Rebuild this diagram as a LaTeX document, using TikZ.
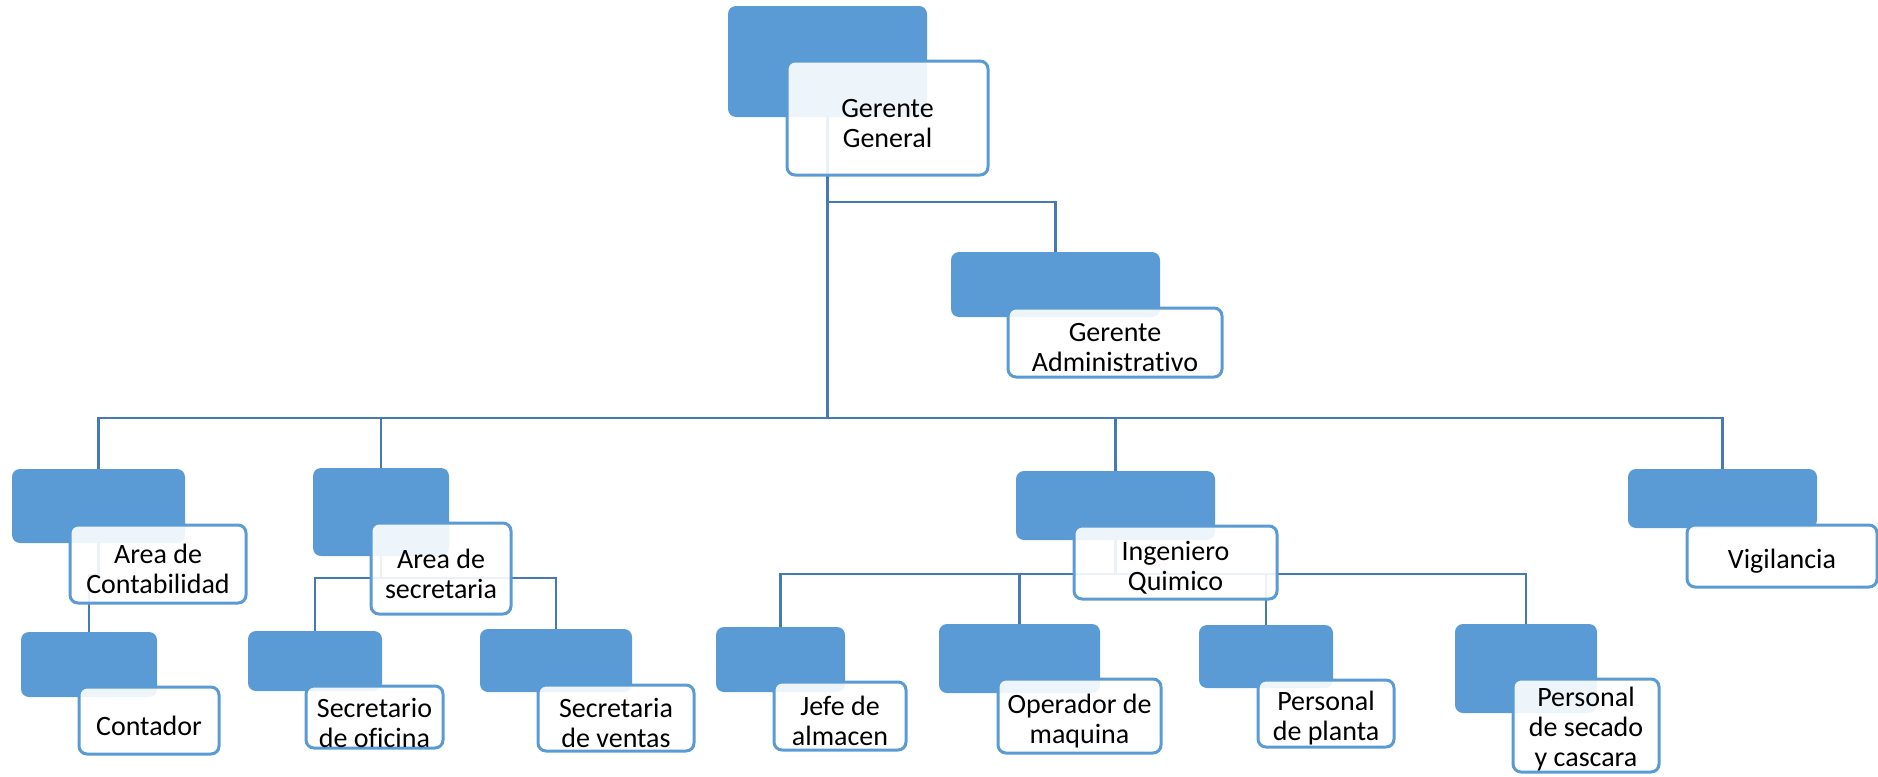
\documentclass[tikz,border=0pt]{standalone}
\usepackage{fontspec}
\setmainfont{Carlito}[Ligatures=NoCommon]
\usetikzlibrary{calc}

\definecolor{boxblue}{RGB}{91,155,213}
\definecolor{linkblue}{RGB}{70,122,178}

\pgfdeclarelayer{bg}
\pgfsetlayers{bg,main}

\tikzset{
  unitback/.style={fill=boxblue, draw=none, rounded corners=4pt,
    inner sep=0pt, outer sep=0pt},
  unitfront/.style={fill=white, fill opacity=0.9, draw=boxblue, line width=1.5pt,
    rounded corners=4pt, inner sep=0pt, outer sep=0pt},
  boxtext/.style={font=\fontsize{14}{15}\selectfont, align=center,
    inner sep=0pt, text=black},
  orgline/.style={draw=linkblue, line width=1.35pt},
}

\begin{document}
\begin{tikzpicture}[x=0.5pt, y=-0.5pt]
\useasboundingbox (0,0) rectangle (1878,776);

% ---- Gerente General
\node[unitback,  minimum width=99.5pt,  minimum height=55.5pt] (ggA) at (827.5,61.5) {};
\node[unitfront, minimum width=100.5pt, minimum height=57pt]   (ggB) at (887.5,118) {};
\node[boxtext] (ggT) at ($(ggB.center)+(0,6)$) {Gerente\\General};

% ---- Gerente Administrativo
\node[unitback,  minimum width=104.5pt, minimum height=32.5pt] (gadA) at (1055.5,284.5) {};
\node[unitfront, minimum width=107pt,   minimum height=34.5pt] (gadB) at (1115,342.5) {};
\node[boxtext] (gadT) at ($(gadB.center)+(0,5)$) {Gerente\\Administrativo};

% ---- Area de Contabilidad
\node[unitback,  minimum width=86.5pt, minimum height=37pt] (contA) at (98.5,506) {};
\node[unitfront, minimum width=88pt,   minimum height=39pt] (contB) at (158,564) {};
\node[boxtext] (contT) at ($(contB.center)+(0,5)$) {Area de\\Contabilidad};

% ---- Contador
\node[unitback,  minimum width=68pt, minimum height=32.5pt] (ctdA) at (89,664.5) {};
\node[unitfront, minimum width=70pt, minimum height=33.5pt] (ctdB) at (149,720.5) {};
\node[boxtext] (ctdT) at ($(ctdB.center)+(0,5)$) {Contador};

% ---- Area de secretaria
\node[unitback,  minimum width=68pt, minimum height=44pt]   (secA) at (381,512) {};
\node[unitfront, minimum width=70pt, minimum height=45.5pt] (secB) at (441,568.5) {};
\node[boxtext] (secT) at ($(secB.center)+(0,5)$) {Area de\\secretaria};

% ---- Secretario de oficina
\node[unitback,  minimum width=67pt,   minimum height=30pt] (sofA) at (315,661) {};
\node[unitfront, minimum width=68.5pt, minimum height=31pt] (sofB) at (374.5,717) {};
\node[boxtext] (sofT) at ($(sofB.center)+(0,6)$) {Secretario\\de oficina};

% ---- Secretaria de ventas
\node[unitback,  minimum width=76pt, minimum height=31.5pt] (sveA) at (556,660.5) {};
\node[unitfront, minimum width=78pt, minimum height=33pt]   (sveB) at (616,718) {};
\node[boxtext] (sveT) at ($(sveB.center)+(0,5)$) {Secretaria\\de ventas};

% ---- Ingeniero Quimico
\node[unitback,  minimum width=99.5pt,  minimum height=34.5pt] (ingA) at (1115.5,505.5) {};
\node[unitfront, minimum width=101.5pt, minimum height=36.5pt] (ingB) at (1175.5,562.5) {};
\node[boxtext] (ingT) at ($(ingB.center)+(0,5)$) {Ingeniero\\Quimico};

% ---- Vigilancia
\node[unitback,  minimum width=94.5pt, minimum height=29.5pt] (vigA) at (1722.5,498.5) {};
\node[unitfront, minimum width=95pt,   minimum height=31pt]   (vigB) at (1782,556) {};
\node[boxtext] (vigT) at ($(vigB.center)+(0,5)$) {Vigilancia};

% ---- Jefe de almacen
\node[unitback,  minimum width=64.5pt, minimum height=32.5pt] (jefA) at (780.5,659.5) {};
\node[unitfront, minimum width=66pt,   minimum height=34pt]   (jefB) at (840,716) {};
\node[boxtext] (jefT) at ($(jefB.center)+(0,5)$) {Jefe de\\almacen};

% ---- Operador de maquina
\node[unitback,  minimum width=80.5pt, minimum height=34.5pt] (opeA) at (1019.5,658.5) {};
\node[unitfront, minimum width=81.5pt, minimum height=37pt]   (opeB) at (1079.5,716) {};
\node[boxtext] (opeT) at ($(opeB.center)+(0,5)$) {Operador de\\maquina};

% ---- Personal de planta
\node[unitback,  minimum width=67pt, minimum height=31.5pt] (plaA) at (1266,656.5) {};
\node[unitfront, minimum width=68pt, minimum height=33.5pt] (plaB) at (1326,713.5) {};
\node[boxtext] (plaT) at ($(plaB.center)+(0,5)$) {Personal\\de planta};

% ---- Personal de secado y cascara
\node[unitback,  minimum width=71pt, minimum height=44.5pt] (scaA) at (1526,668.5) {};
\node[unitfront, minimum width=73pt, minimum height=46.5pt] (scaB) at (1586,725.5) {};
\node[boxtext] (scaT) at ($(scaB.center)+(0,4)$) {Personal\\de secado\\y cascara};

% ---- connectors, drawn beneath the boxes
\begin{pgfonlayer}{bg}
  \path (ggA.south) ++(0,85)  coordinate (admJ);
  \path (ggA.south) ++(0,301) coordinate (busJ);
  \draw[orgline] (ggA.south) -- (busJ);
  \draw[orgline] (admJ) -| (gadA.north);
  \draw[orgline] (busJ) -| (contA.north);
  \draw[orgline] (busJ) -| (secA.north);
  \draw[orgline] (busJ) -| (ingA.north);
  \draw[orgline] (busJ) -| (vigA.north);

  \path (contA.south) ++(0,32) coordinate (ctdJ);
  \draw[orgline] (contA.south) -- (ctdJ) -| (ctdA.north);

  \path (secA.south) ++(0,22) coordinate (secJ);
  \draw[orgline] (secA.south) -- (secJ);
  \draw[orgline] (secJ) -| (sofA.north);
  \draw[orgline] (secJ) -| (sveA.north);

  \path (ingA.south) ++(0,34) coordinate (ingJ);
  \draw[orgline] (ingA.south) -- (ingJ);
  \draw[orgline] (ingJ) -| (jefA.north);
  \draw[orgline] (ingJ) -| (opeA.north);
  \draw[orgline] (ingJ) -| (plaA.north);
  \draw[orgline] (ingJ) -| (scaA.north);
\end{pgfonlayer}
\end{tikzpicture}
\end{document}
